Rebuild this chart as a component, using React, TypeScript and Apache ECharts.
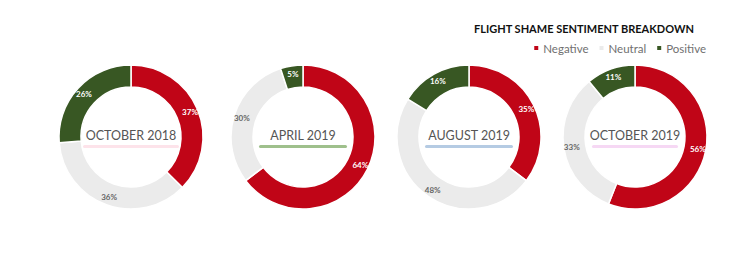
import React, { useEffect, useRef } from "react";
import * as echarts from "echarts";

const categories = ["Negative", "Neutral", "Positive"];
const periods = ["OCTOBER 2018", "APRIL 2019", "AUGUST 2019", "OCTOBER 2019"];
const negativeValues = [37, 64, 35, 56];
const neutralValues = [36, 30, 48, 33];
const positiveValues = [26, 5, 16, 11];

const colors = ["#c00517", "#ebebeb", "#385723"];
const labelColors = ["#ffffff", "#666666", "#ffffff"];
const underlineColors = ["#fde3ea", "#9fc08c", "#b5cbe3", "#f6d8f4"];
const underlineWidths = [96, 88, 88, 86];
const centersX = [131, 303, 469, 635];
const centerY = 137;
const FONT = "Lato, 'Open Sans', sans-serif";

export default function App() {
  const ref = useRef<HTMLDivElement>(null);
  useEffect(() => {
    if (!ref.current) return;
    const chart = echarts.init(ref.current, null, { renderer: "svg" });
    const series = periods.map((p, i) => ({
      type: "pie",
      name: p,
      center: [centersX[i], centerY],
      radius: [50, 72],
      startAngle: 90,
      clockwise: true,
      silent: true,
      itemStyle: { borderColor: "#ffffff", borderWidth: 1.5 },
      label: {
        show: true,
        position: "inside",
        formatter: "{c}%",
        fontFamily: FONT,
        fontSize: 8,
        fontWeight: "bold",
      },
      labelLine: { show: false },
      data: categories.map((c, k) => ({
        name: c,
        value: [negativeValues, neutralValues, positiveValues][k][i],
        itemStyle: { color: colors[k] },
        label: { color: labelColors[k] },
      })),
    }));
    const graphics: any[] = [];
    periods.forEach((p, i) => {
      graphics.push({
        type: "rect",
        shape: {
          x: centersX[i] - underlineWidths[i] / 2,
          y: centerY + 8,
          width: underlineWidths[i],
          height: 3,
          r: 1.5,
        },
        style: { fill: underlineColors[i] },
        silent: true,
      });
      graphics.push({
        type: "text",
        x: centersX[i],
        y: centerY - 2,
        style: {
          text: p,
          fill: "#555555",
          font: `12.5px ${FONT}`,
          align: "center",
          verticalAlign: "middle",
        },
        silent: true,
      });
    });
    chart.setOption({
      animation: false,
      title: {
        text: "FLIGHT SHAME SENTIMENT BREAKDOWN",
        left: 474,
        top: 23,
        padding: 0,
        textStyle: { fontFamily: FONT, fontSize: 11, fontWeight: "bold", color: "#111111" },
      },
      legend: {
        data: categories,
        right: 37,
        top: 42,
        padding: 0,
        icon: "rect",
        itemWidth: 6,
        itemHeight: 6,
        itemGap: 9,
        textStyle: { fontFamily: FONT, fontSize: 11.5, color: "#707070", padding: [0, 0, 0, -1] },
      },
      graphic: graphics,
      series,
    });
    return () => chart.dispose();
  }, []);
  return (
    <div
      ref={ref}
      style={{ position: "fixed", left: 0, top: 0, width: 743, height: 256, background: "#ffffff" }}
    />
  );
}
